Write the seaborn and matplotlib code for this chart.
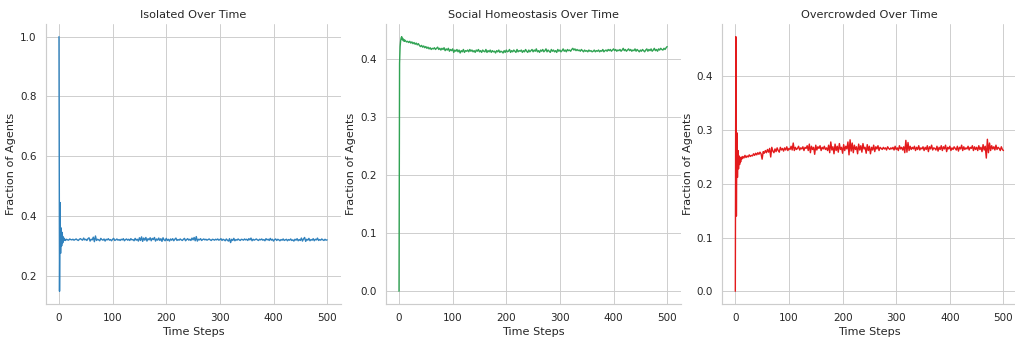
import matplotlib
matplotlib.use("Agg")
import matplotlib.pyplot as plt
import seaborn as sns
import pandas as pd

titles = ["Isolated Over Time", "Social Homeostasis Over Time", "Overcrowded Over Time"]
colors = ["#3182bd", "#31a354", "#e31a1c"]

# values for steps 0..11, then every second step from 12 to 500
isolated = [
    1.000, 0.148, 0.445, 0.275, 0.360, 0.300, 0.345, 0.310, 0.330, 0.318, 0.325, 0.320,
    0.318, 0.322, 0.320, 0.319, 0.323, 0.321, 0.320, 0.322, 0.319, 0.321,
    0.323, 0.320, 0.318, 0.322, 0.324, 0.321, 0.319, 0.326, 0.320, 0.322,
    0.318, 0.324, 0.327, 0.316, 0.322, 0.320, 0.329, 0.314, 0.333, 0.318,
    0.322, 0.320, 0.317, 0.325, 0.321, 0.319, 0.323, 0.316, 0.322, 0.320,
    0.324, 0.319, 0.321, 0.317, 0.322, 0.325, 0.318, 0.320, 0.323, 0.319,
    0.321, 0.318, 0.322, 0.320, 0.324, 0.317, 0.321, 0.323, 0.319, 0.322,
    0.318, 0.324, 0.320, 0.321, 0.317, 0.325, 0.319, 0.322, 0.316, 0.327,
    0.318, 0.330, 0.315, 0.326, 0.319, 0.328, 0.316, 0.324, 0.320, 0.327,
    0.317, 0.325, 0.321, 0.328, 0.316, 0.323, 0.319, 0.326, 0.318, 0.324,
    0.315, 0.327, 0.320, 0.317, 0.325, 0.318, 0.322, 0.316, 0.323, 0.319,
    0.324, 0.317, 0.322, 0.326, 0.318, 0.321, 0.319, 0.323, 0.320, 0.318,
    0.322, 0.325, 0.317, 0.321, 0.324, 0.319, 0.322, 0.318, 0.326, 0.320,
    0.328, 0.317, 0.331, 0.316, 0.322, 0.320, 0.324, 0.318, 0.321, 0.323,
    0.320, 0.322, 0.319, 0.321, 0.323, 0.320, 0.318, 0.322, 0.321, 0.319,
    0.322, 0.320, 0.323, 0.319, 0.321, 0.324, 0.318, 0.322, 0.320, 0.317,
    0.323, 0.319, 0.316, 0.324, 0.311, 0.322, 0.318, 0.325, 0.317, 0.321,
    0.319, 0.323, 0.320, 0.318, 0.322, 0.321, 0.319, 0.323, 0.320, 0.322,
    0.318, 0.324, 0.320, 0.326, 0.317, 0.322, 0.319, 0.321, 0.323, 0.320,
    0.318, 0.322, 0.320, 0.323, 0.319, 0.321, 0.317, 0.324, 0.320, 0.322,
    0.318, 0.325, 0.319, 0.322, 0.316, 0.321, 0.323, 0.318, 0.322, 0.320,
    0.317, 0.321, 0.319, 0.323, 0.318, 0.320, 0.322, 0.317, 0.321, 0.319,
    0.323, 0.318, 0.320, 0.316, 0.322, 0.319, 0.324, 0.317, 0.321, 0.318,
    0.326, 0.316, 0.323, 0.328, 0.315, 0.322, 0.319, 0.325, 0.317, 0.321,
    0.319, 0.324, 0.317, 0.322, 0.320, 0.326, 0.318, 0.321, 0.319, 0.323,
    0.320, 0.318, 0.322, 0.319, 0.320,
]

homeostasis = [
    0.000, 0.392, 0.421, 0.431, 0.436, 0.438, 0.433, 0.435, 0.431, 0.433, 0.430, 0.432,
    0.431, 0.429, 0.430, 0.428, 0.430, 0.427, 0.429, 0.426, 0.428, 0.425,
    0.427, 0.424, 0.426, 0.423, 0.421, 0.423, 0.420, 0.422, 0.419, 0.421,
    0.418, 0.420, 0.417, 0.419, 0.416, 0.418, 0.417, 0.419, 0.416, 0.418,
    0.420, 0.416, 0.418, 0.415, 0.418, 0.416, 0.419, 0.414, 0.417, 0.415,
    0.418, 0.413, 0.416, 0.414, 0.417, 0.411, 0.415, 0.413, 0.416, 0.412,
    0.415, 0.410, 0.414, 0.412, 0.416, 0.411, 0.414, 0.413, 0.415, 0.412,
    0.416, 0.413, 0.415, 0.412, 0.414, 0.411, 0.415, 0.413, 0.416, 0.412,
    0.414, 0.411, 0.415, 0.413, 0.412, 0.416, 0.411, 0.414, 0.412, 0.415,
    0.411, 0.414, 0.412, 0.413, 0.410, 0.414, 0.412, 0.415, 0.411, 0.413,
    0.412, 0.410, 0.414, 0.411, 0.415, 0.412, 0.413, 0.416, 0.411, 0.414,
    0.412, 0.415, 0.413, 0.411, 0.416, 0.412, 0.414, 0.413, 0.415, 0.411,
    0.414, 0.412, 0.416, 0.413, 0.411, 0.415, 0.412, 0.414, 0.416, 0.412,
    0.415, 0.413, 0.417, 0.412, 0.414, 0.411, 0.415, 0.413, 0.416, 0.412,
    0.414, 0.417, 0.412, 0.415, 0.413, 0.411, 0.416, 0.413, 0.415, 0.412,
    0.414, 0.411, 0.416, 0.413, 0.415, 0.412, 0.414, 0.417, 0.413, 0.415,
    0.412, 0.416, 0.414, 0.415, 0.413, 0.416, 0.418, 0.415, 0.417, 0.414,
    0.416, 0.414, 0.415, 0.413, 0.416, 0.414, 0.412, 0.415, 0.413, 0.414,
    0.412, 0.415, 0.413, 0.414, 0.412, 0.413, 0.415, 0.412, 0.414, 0.413,
    0.415, 0.412, 0.414, 0.413, 0.416, 0.412, 0.414, 0.415, 0.413, 0.416,
    0.414, 0.416, 0.413, 0.415, 0.417, 0.414, 0.416, 0.413, 0.415, 0.414,
    0.416, 0.413, 0.415, 0.418, 0.414, 0.416, 0.413, 0.415, 0.417, 0.414,
    0.416, 0.413, 0.415, 0.414, 0.417, 0.413, 0.416, 0.414, 0.412, 0.415,
    0.413, 0.416, 0.414, 0.412, 0.415, 0.417, 0.413, 0.416, 0.414, 0.417,
    0.413, 0.415, 0.418, 0.414, 0.416, 0.413, 0.417, 0.415, 0.418, 0.416,
    0.415, 0.418, 0.416, 0.419, 0.421,
]

overcrowded = [
    0.000, 0.474, 0.140, 0.295, 0.212, 0.262, 0.228, 0.252, 0.236, 0.248, 0.241, 0.250,
    0.246, 0.251, 0.248, 0.253, 0.249, 0.252, 0.250, 0.254, 0.251, 0.253,
    0.252, 0.256, 0.253, 0.257, 0.254, 0.258, 0.255, 0.259, 0.256, 0.246,
    0.260, 0.257, 0.262, 0.258, 0.264, 0.259, 0.266, 0.250, 0.268, 0.261,
    0.258, 0.265, 0.260, 0.267, 0.262, 0.259, 0.268, 0.263, 0.266, 0.261,
    0.267, 0.263, 0.269, 0.262, 0.266, 0.264, 0.270, 0.263, 0.276, 0.262,
    0.268, 0.264, 0.266, 0.270, 0.263, 0.267, 0.265, 0.269, 0.262, 0.268,
    0.266, 0.271, 0.262, 0.274, 0.258, 0.270, 0.264, 0.268, 0.255, 0.272,
    0.263, 0.269, 0.266, 0.271, 0.262, 0.268, 0.265, 0.270, 0.264, 0.267,
    0.262, 0.272, 0.258, 0.278, 0.263, 0.269, 0.256, 0.274, 0.262, 0.270,
    0.259, 0.275, 0.264, 0.268, 0.257, 0.273, 0.262, 0.270, 0.265, 0.278,
    0.254, 0.282, 0.261, 0.276, 0.258, 0.272, 0.264, 0.269, 0.256, 0.274,
    0.263, 0.271, 0.259, 0.275, 0.265, 0.268, 0.257, 0.273, 0.262, 0.270,
    0.256, 0.268, 0.263, 0.272, 0.260, 0.269, 0.265, 0.271, 0.262, 0.268,
    0.266, 0.264, 0.268, 0.265, 0.267, 0.263, 0.269, 0.266, 0.264, 0.267,
    0.265, 0.268, 0.263, 0.270, 0.264, 0.267, 0.262, 0.271, 0.265, 0.268,
    0.263, 0.269, 0.258, 0.281, 0.259, 0.277, 0.262, 0.270, 0.264, 0.268,
    0.265, 0.270, 0.262, 0.268, 0.264, 0.271, 0.263, 0.267, 0.265, 0.269,
    0.262, 0.268, 0.264, 0.271, 0.260, 0.269, 0.265, 0.272, 0.263, 0.267,
    0.266, 0.263, 0.270, 0.261, 0.268, 0.264, 0.271, 0.262, 0.269, 0.265,
    0.272, 0.260, 0.268, 0.265, 0.270, 0.262, 0.267, 0.264, 0.269, 0.266,
    0.263, 0.270, 0.261, 0.268, 0.265, 0.272, 0.262, 0.269, 0.264, 0.267,
    0.265, 0.270, 0.263, 0.268, 0.266, 0.271, 0.262, 0.269, 0.264, 0.268,
    0.262, 0.271, 0.264, 0.268, 0.260, 0.273, 0.263, 0.270, 0.248, 0.283,
    0.258, 0.276, 0.262, 0.271, 0.265, 0.269, 0.263, 0.272, 0.264, 0.268,
    0.266, 0.262, 0.269, 0.264, 0.262,
]

series_list = [isolated, homeostasis, overcrowded]


def time_steps(n):
    # steps 0..11 individually, then every second step
    return list(range(12)) + list(range(12, 12 + 2 * (n - 12), 2))


sns.set_theme(style="whitegrid")
plt.rcParams["font.family"] = ["DejaVu Sans"]

DPI = 67.67
fig = plt.figure(figsize=(15, 5.025), dpi=DPI)
lefts = [0.0449, 0.3799, 0.7112]
width, bottom, height = 0.2906, 0.1059, 0.8235

for left, title, color, vals in zip(lefts, titles, colors, series_list):
    ax = fig.add_axes([left, bottom, width, height])
    df = pd.DataFrame({"Time Steps": time_steps(len(vals)), "Fraction of Agents": vals})
    sns.lineplot(data=df, x="Time Steps", y="Fraction of Agents", color=color,
                 linewidth=1.5, estimator=None, ax=ax)
    ax.set_title(title)
    ax.set_xticks([0, 100, 200, 300, 400, 500])
    sns.despine(ax=ax)

fig.savefig("out.png", dpi=DPI)
